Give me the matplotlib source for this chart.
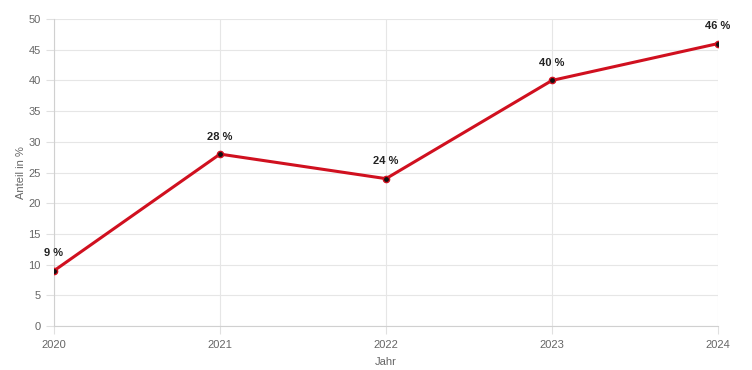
import matplotlib.pyplot as plt

plt.rcParams['font.family'] = ['Liberation Sans', 'DejaVu Sans']

years = [2020, 2021, 2022, 2023, 2024]
share = [9, 28, 24, 40, 46]
labels = ['9 %', '28 %', '24 %', '40 %', '46 %']

fig = plt.figure(figsize=(7.52, 3.70), dpi=100)
ax = fig.add_axes([0.0718, 0.1189, 0.883, 0.8297])

ax.plot(years, share, color='#d0101f', linewidth=2.2, zorder=3,
        marker='o', markersize=4.5, markerfacecolor='#111111',
        markeredgecolor='#d0101f', markeredgewidth=1)

for x, y, t in zip(years, share, labels):
    ax.annotate(t, (x, y), xytext=(0, 9), textcoords='offset points',
                ha='center', va='bottom', fontsize=8, fontweight='bold',
                color='#222222')

ax.set_xlim(2020, 2024)
ax.set_ylim(0, 50)
ax.set_xticks(years)
ax.set_yticks(range(0, 51, 5))
ax.grid(True, color='#e6e6e6', linewidth=0.8)
ax.set_axisbelow(True)
for s in ['top', 'right']:
    ax.spines[s].set_visible(False)
for s in ['left', 'bottom']:
    ax.spines[s].set_color('#d0d0d0')
ax.tick_params(colors='#666666', labelsize=8, length=6, width=0.8)
ax.tick_params(axis='both', color='#e0e0e0')
ax.tick_params(axis='x', pad=4)
ax.set_xlabel('Jahr', fontsize=8, color='#666666', labelpad=5)
ax.set_ylabel('Anteil in %', fontsize=8, color='#666666', labelpad=2)

fig.savefig('out.png', dpi=100)
